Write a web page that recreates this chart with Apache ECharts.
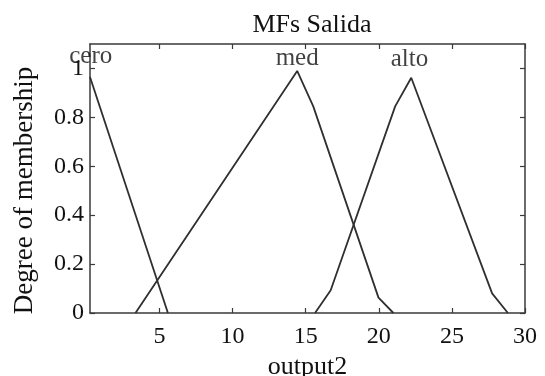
<!DOCTYPE html>
<html>
<head>
<meta charset="utf-8">
<script src="https://cdn.jsdelivr.net/npm/echarts@6/dist/echarts.min.js"></script>
<style>
  html, body { margin: 0; padding: 0; background: #fff; }
  #chart { width: 545px; height: 376px; }
</style>
</head>
<body>
<div id="chart"></div>
<script>
// membership functions, as [x, degree]
const ceroPoints = [[0.25, 0.965], [5.58, 0]];
const medPoints = [[3.36, 0], [14.42, 0.99], [15.52, 0.845], [19.98, 0.063], [21.0, 0]];
const altoPoints = [[15.64, 0], [16.71, 0.093], [21.12, 0.845], [22.22, 0.962], [27.75, 0.08], [28.83, 0]];

const mfNames = ['cero', 'med', 'alto'];
const mfLabelX = [0.3, 14.42, 22.1];
const mfLabelY = [1.05, 1.042, 1.035];

const xTicks = [5, 10, 15, 20, 25, 30];
const yTicks = [0, 0.2, 0.4, 0.6, 0.8, 1];

const fontFamily = '"Liberation Serif", "DejaVu Serif", serif';
const axisColor = '#3a3a3a';
const lineColor = '#2f2f2f';

const chart = echarts.init(document.getElementById('chart'));

const baseX = {
  type: 'value',
  min: 0.25,
  max: 30,
  splitLine: { show: false },
  axisLine: { show: true, onZero: false, lineStyle: { color: axisColor, width: 1.5 } },
  axisTick: { show: true, inside: true, length: 5, customValues: xTicks, lineStyle: { color: axisColor, width: 1.2 } }
};
const baseY = {
  type: 'value',
  min: 0,
  max: 1.1,
  splitLine: { show: false },
  axisLine: { show: true, onZero: false, lineStyle: { color: axisColor, width: 1.5 } },
  axisTick: { show: true, inside: true, length: 5, customValues: yTicks, lineStyle: { color: axisColor, width: 1.2 } }
};

const mfSeries = [ceroPoints, medPoints, altoPoints].map((pts, i) => ({
  name: mfNames[i],
  type: 'line',
  data: pts,
  symbol: 'none',
  lineStyle: { color: lineColor, width: 1.8 },
  animation: false
}));

chart.setOption({
  animation: false,
  title: {
    text: 'MFs Salida',
    left: 307,
    textAlign: 'center',
    top: 7,
    textStyle: { fontFamily, fontSize: 26, fontWeight: 'normal', color: '#111' }
  },
  grid: { left: 90, right: 20, top: 44, bottom: 63, containLabel: false, outerBoundsMode: 'none' },
  xAxis: [
    Object.assign({}, baseX, {
      position: 'bottom',
      name: 'output2',
      nameLocation: 'middle',
      nameGap: 33,
      nameTextStyle: { fontFamily, fontSize: 26, color: '#111' },
      axisLabel: { show: true, customValues: xTicks, margin: 12, fontFamily, fontSize: 24, color: '#111' }
    }),
    Object.assign({}, baseX, { position: 'top', axisLabel: { show: false } })
  ],
  yAxis: [
    Object.assign({}, baseY, {
      position: 'left',
      name: 'Degree of membership',
      nameLocation: 'middle',
      nameGap: 52,
      nameTextStyle: { fontFamily, fontSize: 27, color: '#111', padding: [0, 24, 0, 0] },
      axisLabel: { show: true, customValues: yTicks, margin: 6, fontFamily, fontSize: 24, color: '#111' }
    }),
    Object.assign({}, baseY, { position: 'right', axisLabel: { show: false } })
  ],
  series: mfSeries.concat([{
    name: 'labels',
    type: 'scatter',
    symbolSize: 0,
    data: mfNames.map((n, i) => [mfLabelX[i], mfLabelY[i], n]),
    label: {
      show: true,
      position: 'inside',
      formatter: p => p.data[2],
      fontFamily,
      fontSize: 25,
      color: '#111'
    },
    silent: true
  }])
});
</script>
</body>
</html>
